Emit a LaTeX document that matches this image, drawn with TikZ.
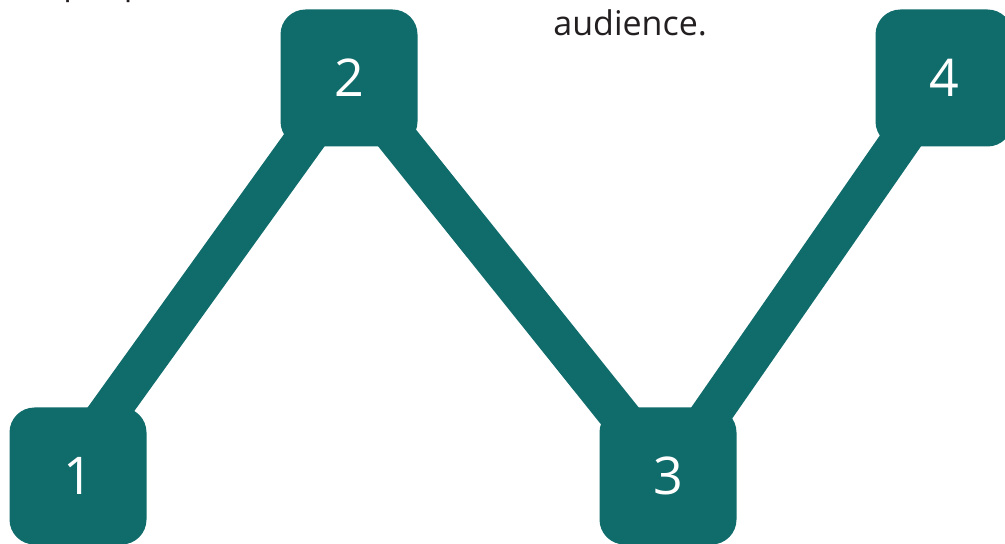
\documentclass[tikz,border=0pt]{standalone}
\usepackage{fontspec}
\setmainfont{Open Sans}
\usetikzlibrary{backgrounds}
\definecolor{stepteal}{RGB}{16,108,107}
\definecolor{textgray}{RGB}{35,31,32}

\begin{document}
\begin{tikzpicture}[x=0.5pt, y=-0.5pt,
  stepbox/.style={fill=stepteal, rounded corners=12.5pt, minimum width=68.5pt,
    minimum height=68.5pt, inner sep=0pt, text=white, font=\fontsize{26}{30}\selectfont},
  link/.style={line width=20pt, draw=stepteal},
  caption/.style={anchor=base west, inner sep=0pt, text=textgray, font=\fontsize{17}{20}\selectfont}]
  \useasboundingbox (0,0) rectangle (1005,544);
  \clip (0,0) rectangle (1005,544);
  \node (n1) [stepbox] at (78,476) {1};
  \node (n2) [stepbox] at (349,78) {2};
  \node (n3) [stepbox] at (668,476) {3};
  \node (n4) [stepbox] at (944,78) {4};
  \node (cut) [caption] at (63,-5) {people};
  \node (aud) [caption] at (553,36) {audience.};
  \begin{scope}[on background layer]
    \draw[link] ([xshift=-7.5pt]n1.center) -- (n2.center);
    \draw[link] (n2.center) -- (n3.center);
    \draw[link] (n3.center) -- (n4.center);
  \end{scope}
\end{tikzpicture}
\end{document}
